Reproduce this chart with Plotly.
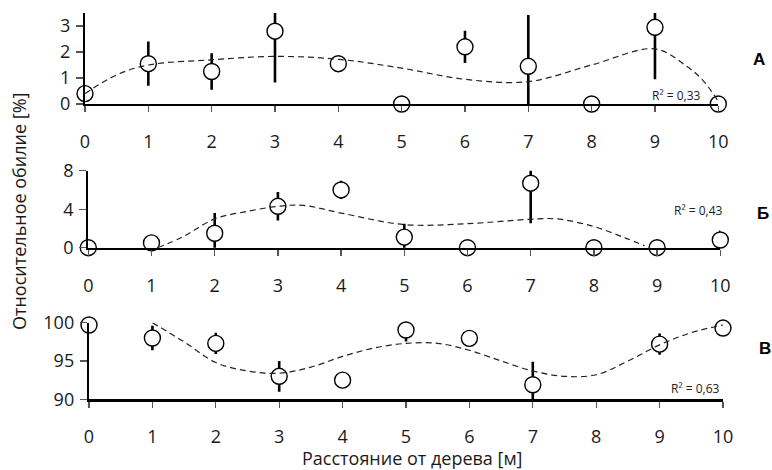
import plotly.graph_objects as go

# ---------------- data ----------------
dist_labels = [str(i) for i in range(11)]

# Panel А
a_x = [0, 1, 2, 3, 4, 5, 6, 7, 8, 9, 10]
a_y = [0.4, 1.55, 1.25, 2.8, 1.55, 0.0, 2.2, 1.45, 0.0, 2.95, 0.0]
a_err = [0, 0.85, 0.7, 1.97, 0, 0, 0.62, 1.97, 0, 2.0, 0]
a_trend_x = [0, 0.5, 1, 2, 3, 4, 5, 6, 7, 8, 9, 9.5, 9.75, 10]
a_trend_y = [0.4, 1.12, 1.5, 1.7, 1.83, 1.72, 1.38, 0.95, 0.86, 1.5, 2.12, 1.45, 0.93, 0.1]
a_r2 = "R² = 0,33"

# Panel Б
b_x = [0, 1, 2, 3, 4, 5, 6, 7, 8, 9, 10]
b_y = [0.0, 0.5, 1.5, 4.3, 6.0, 1.1, 0.0, 6.7, 0.0, 0.0, 0.8]
b_err = [0, 0, 2.1, 1.48, 0.95, 1.4, 0, 4.15, 0, 0, 1.0]
b_trend_x = [1.1, 1.5, 2, 2.5, 3, 3.4, 4, 5, 6, 7, 7.4, 8, 8.5, 8.8]
b_trend_y = [0.0, 1.15, 3.0, 3.75, 4.3, 4.4, 3.6, 2.4, 2.5, 2.95, 3.0, 2.2, 1.0, 0.2]
b_r2 = "R² = 0,43"

# Panel В
c_x = [0, 1, 2, 3, 4, 5, 6, 7, 9, 10]
c_y = [99.7, 98.0, 97.3, 93.0, 92.5, 99.05, 97.96, 91.9, 97.2, 99.3]
c_err = [0, 1.6, 1.4, 2.0, 0, 1.5, 0, 3.0, 1.4, 0]
c_trend_x = [1, 1.5, 2, 2.5, 3, 3.5, 4, 4.5, 5, 5.5, 6, 6.5, 7, 7.5, 8, 8.5, 9, 9.5, 10]
c_trend_y = [100.0, 97.5, 94.8, 93.7, 93.4, 94.2, 95.6, 96.7, 97.3, 97.3, 96.4, 95.0, 93.7, 93.0, 93.2, 95.0, 97.1, 98.7, 99.7]
c_r2 = "R² = 0,63"

panel_letters = ["А", "Б", "В"]
x_title = "Расстояние от дерева [м]"
y_title = "Относительное обилие [%]"

# ---------------- figure ----------------
W, H = 772, 470
FONT = "Open Sans"
TICK_FS = 18

def fy(px):
    return (H - px) / H

def fx(px):
    return px / W

panels = [
    dict(x=a_x, y=a_y, err=a_err, tx=a_trend_x, ty=a_trend_y, r2=a_r2,
         xdom=[fx(85), fx(718.3)], ydom=[fy(104), fy(13)], yrange=[0, 3.5],
         yticks=[0, 1, 2, 3], r2pos=(676, 95), letpos=(759, 60)),
    dict(x=b_x, y=b_y, err=b_err, tx=b_trend_x, ty=b_trend_y, r2=b_r2,
         xdom=[fx(88.3), fx(720.3)], ydom=[fy(247.7), fy(170.7)], yrange=[0, 8],
         yticks=[0, 4, 8], r2pos=(698, 210), letpos=(763, 213)),
    dict(x=c_x, y=c_y, err=c_err, tx=c_trend_x, ty=c_trend_y, r2=c_r2,
         xdom=[fx(89), fx(723)], ydom=[fy(399.3), fy(322.7)], yrange=[90, 100],
         yticks=[90, 95, 100], r2pos=(695, 388), letpos=(765, 348)),
]

fig = go.Figure()
layout = dict(
    width=W, height=H,
    margin=dict(l=0, r=0, t=0, b=0, autoexpand=False),
    paper_bgcolor="white", plot_bgcolor="white",
    showlegend=False,
    font=dict(family=FONT, size=TICK_FS, color="#1a1a1a"),
)
annotations = []

for i, p in enumerate(panels):
    n = "" if i == 0 else str(i + 1)
    xa, ya = "x" + n, "y" + n
    # error bars (clipped to the plot area)
    fig.add_trace(go.Scatter(
        x=p["x"], y=p["y"], xaxis=xa, yaxis=ya, mode="markers",
        marker=dict(size=1, color="rgba(0,0,0,0)"),
        error_y=dict(type="data", array=p["err"], visible=True,
                     color="black", thickness=2.6, width=0),
        cliponaxis=True, hoverinfo="skip"))
    # circles
    fig.add_trace(go.Scatter(
        x=p["x"], y=p["y"], xaxis=xa, yaxis=ya, mode="markers",
        marker=dict(size=16, color="white", line=dict(color="black", width=1.4)),
        cliponaxis=False, hoverinfo="skip"))
    # trend line
    fig.add_trace(go.Scatter(
        x=p["tx"], y=p["ty"], xaxis=xa, yaxis=ya, mode="lines",
        line=dict(color="#222222", width=1.2, dash="6px,4px", shape="spline", smoothing=1.0),
        hoverinfo="skip"))

    layout["xaxis" + n] = dict(
        domain=p["xdom"], range=[0, 10], anchor=ya, automargin=False,
        tickmode="array", tickvals=list(range(11)), ticktext=dist_labels,
        showline=True, linecolor="black", linewidth=2.2,
        ticks="outside", ticklen=6, tickwidth=1.3, tickcolor="#555555",
        showgrid=False, zeroline=False, fixedrange=True,
        ticklabelstandoff=14,
        tickfont=dict(family=FONT, size=TICK_FS, color="#1a1a1a"))
    layout["yaxis" + n] = dict(
        domain=p["ydom"], range=p["yrange"], anchor=xa, automargin=False,
        tickmode="array", tickvals=p["yticks"],
        showline=True, linecolor="black", linewidth=2.2,
        ticks="outside", ticklen=7, tickwidth=1.3, tickcolor="#555555",
        showgrid=False, zeroline=False, fixedrange=True,
        ticklabelstandoff=2,
        tickfont=dict(family=FONT, size=TICK_FS, color="#1a1a1a"))

    annotations.append(dict(
        text=p["r2"], x=fx(p["r2pos"][0]), y=fy(p["r2pos"][1]),
        xref="paper", yref="paper", showarrow=False,
        xanchor="center", yanchor="middle",
        font=dict(family=FONT, size=12, color="#222222")))
    annotations.append(dict(
        text="<b>" + panel_letters[i] + "</b>", x=fx(p["letpos"][0]), y=fy(p["letpos"][1]),
        xref="paper", yref="paper", showarrow=False,
        xanchor="center", yanchor="middle",
        font=dict(family="Liberation Sans", size=17, color="black")))

annotations.append(dict(
    text=x_title, x=fx(412), y=fy(458), xref="paper", yref="paper",
    showarrow=False, xanchor="center", yanchor="middle",
    font=dict(family=FONT, size=TICK_FS, color="#1a1a1a")))
annotations.append(dict(
    text=y_title, x=fx(19), y=fy(212), xref="paper", yref="paper",
    showarrow=False, xanchor="center", yanchor="middle", textangle=-90,
    font=dict(family=FONT, size=TICK_FS, color="#1a1a1a")))

layout["annotations"] = annotations
fig.update_layout(**layout)
fig.write_html(
    "out.html",
    config={"displayModeBar": False, "staticPlot": True},
    post_script="document.body.style.margin='0';document.body.style.padding='0';"
                "document.body.style.overflow='hidden';",
)
